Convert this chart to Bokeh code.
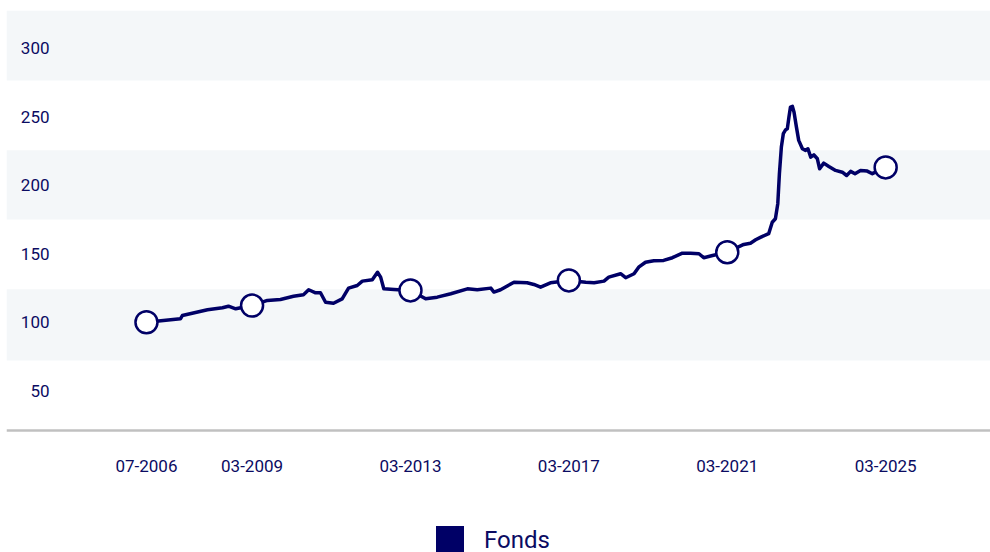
import pandas as pd
from bokeh.plotting import figure
from bokeh.models import (Range1d, BoxAnnotation, LabelSet, Span,
                          ColumnDataSource, Legend, LegendItem)
from bokeh.core.properties import value
from bokeh.embed import file_html
from bokeh.resources import INLINE

# ---------------- data ----------------
dates = [
    "2006-07-01", "2007-05-10", "2007-05-28", "2008-01-15", "2008-06-01", "2008-07-26",
    "2008-10-01", "2009-03-01", "2009-07-20", "2009-11-18", "2010-03-18", "2010-06-18",
    "2010-08-05", "2010-10-08", "2010-11-22", "2011-01-08", "2011-03-22", "2011-06-10",
    "2011-08-08", "2011-10-27", "2011-12-13", "2012-03-14", "2012-05-01", "2012-05-30",
    "2012-06-28", "2012-10-01", "2013-03-01", "2013-07-19", "2013-11-03", "2014-03-08",
    "2014-08-08", "2014-11-07", "2015-03-12", "2015-04-10", "2015-06-10", "2015-10-12",
    "2016-02-10", "2016-04-12", "2016-06-13", "2016-09-12", "2017-03-01", "2017-08-04",
    "2017-10-20", "2018-01-19", "2018-03-04", "2018-06-21", "2018-08-07", "2018-10-23",
    "2018-12-05", "2019-02-06", "2019-04-23", "2019-07-23", "2019-10-12", "2020-01-12",
    "2020-03-28", "2020-06-13", "2020-07-27", "2020-10-16", "2021-03-01", "2021-07-31",
    "2021-10-01", "2021-11-18", "2022-01-05", "2022-03-18", "2022-04-20", "2022-05-19",
    "2022-06-10", "2022-06-25", "2022-07-13", "2022-07-31", "2022-08-22", "2022-09-06",
    "2022-09-21", "2022-10-05", "2022-10-23", "2022-11-07", "2022-11-29", "2022-12-20",
    "2023-01-23", "2023-02-21", "2023-03-15", "2023-04-10", "2023-05-09", "2023-06-10",
    "2023-07-01", "2023-08-08", "2023-09-24", "2023-11-25", "2024-01-26", "2024-03-06",
    "2024-04-12", "2024-05-22", "2024-07-12", "2024-09-12", "2024-10-29", "2025-03-01",
]
values = [
    100.0, 102.5, 104.9, 109.1, 110.6, 111.7,
    109.8, 112.2, 115.9, 116.6, 119.0, 120.1,
    123.7, 121.5, 121.5, 114.6, 113.9, 117.1,
    124.9, 126.8, 130.0, 131.0, 136.5, 132.9,
    124.4, 123.9, 123.2, 117.1, 118.3, 120.8,
    124.4, 123.7, 124.9, 122.0, 123.7, 129.2,
    128.8, 127.6, 125.6, 128.8, 130.5, 129.2,
    128.8, 130.0, 132.9, 135.4, 132.5, 135.4,
    140.2, 143.8, 144.9, 145.1, 147.1, 150.4,
    150.4, 150.0, 147.1, 148.7, 151.1, 156.8,
    157.7, 160.2, 162.1, 164.6, 173.0, 175.5,
    186.5, 208.4, 227.8, 237.6, 240.5, 241.2,
    249.7, 257.0, 257.5, 253.3, 242.4, 232.7,
    226.6, 225.4, 226.6, 220.5, 222.2, 219.3,
    212.0, 216.1, 213.7, 210.8, 209.5, 207.1,
    210.1, 208.4, 210.8, 210.3, 208.4, 213.0,
]
marker_dates = ["2006-07-01", "2009-03-01", "2013-03-01", "2017-03-01", "2021-03-01", "2025-03-01"]
marker_values = [100.0, 112.2, 123.2, 130.5, 151.1, 213.0]
x_tick_dates = ["2006-07-01", "2009-03-01", "2013-03-01", "2017-03-01", "2021-03-01", "2025-03-01"]
x_tick_labels = ["07-2006", "03-2009", "03-2013", "03-2017", "03-2021", "03-2025"]
y_ticks = [50, 100, 150, 200, 250, 300]
y_tick_labels = ["50", "100", "150", "200", "250", "300"]
band_bottoms = [72.0, 175.0, 276.5]
band_tops = [124.0, 225.5, 327.5]
axis_base = 21.0
series_name = "Fonds"

# ---------------- styling ----------------
NAVY = "#000066"
TEXT = "#0b0b62"
BAND = "#f4f7f9"
FONT = "Roboto"

x = pd.to_datetime(dates)
mx = pd.to_datetime(marker_dates)
tx = pd.to_datetime(x_tick_dates)

p = figure(width=990, height=552, x_axis_location=None, y_axis_location=None,
           x_axis_type="datetime",
           x_range=Range1d(pd.Timestamp("2002-12-18"), pd.Timestamp("2027-10-24")),
           y_range=Range1d(-68.03, 327.5),
           output_backend="svg", toolbar_location=None,
           min_border_left=6, min_border_right=0, min_border_top=10, min_border_bottom=0)
p.outline_line_color = None
p.background_fill_color = "white"
p.border_fill_color = "white"
p.grid.visible = False

for b0, b1 in zip(band_bottoms, band_tops):
    p.add_layout(BoxAnnotation(bottom=b0, top=b1, fill_color=BAND, fill_alpha=1.0,
                               line_color=None, level="underlay"))

# x axis baseline and labels
p.add_layout(Span(location=axis_base, dimension="width", line_color="#c0c0c0",
                  line_width=2.5, level="underlay"))
xsrc = ColumnDataSource(dict(x=tx, y=[axis_base] * len(x_tick_labels), text=x_tick_labels))
p.add_layout(LabelSet(x="x", y="y", text="text", source=xsrc, y_offset=-35,
                      text_align="center", text_baseline="middle",
                      text_font=value(FONT), text_font_size="17px", text_color=TEXT))

# y labels (drawn inside the plot area, as in the reference)
ysrc = ColumnDataSource(dict(y=y_ticks, text=y_tick_labels))
p.add_layout(LabelSet(x=43, y="y", x_units="screen", text="text", source=ysrc,
                      text_align="right", text_baseline="middle",
                      text_font=value(FONT), text_font_size="17px", text_color=TEXT))

# hidden area renderer that supplies the square legend swatch
area = p.varea(x=x, y1=axis_base, y2=values, fill_color=NAVY, visible=False)

p.line(x, values, line_color=NAVY, line_width=3.5, line_join="round")
p.scatter(mx, marker_values, size=22, fill_color="white", line_color=NAVY, line_width=2.5)

legend = Legend(items=[LegendItem(label=series_name, renderers=[area])],
                location=(426, -5), orientation="horizontal",
                glyph_width=35, glyph_height=35, label_standoff=17,
                padding=0, margin=0, border_line_color=None,
                background_fill_alpha=0.0,
                label_text_font=FONT, label_text_font_size="24px",
                label_text_color=TEXT)
p.add_layout(legend)

open("out.html", "w").write(file_html(p, INLINE))
